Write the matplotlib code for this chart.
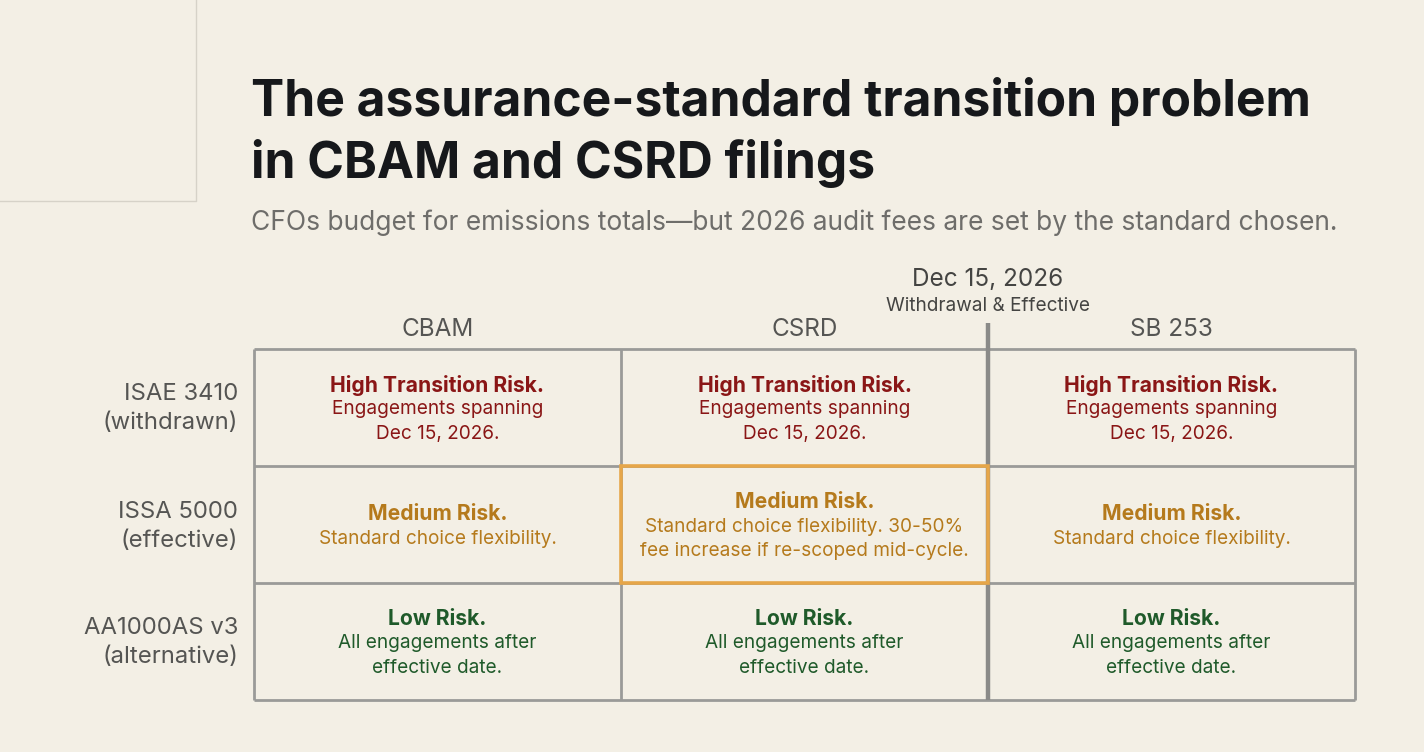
import matplotlib.pyplot as plt
from matplotlib.patches import Rectangle

plt.rcParams['font.family'] = ['Inter', 'DejaVu Sans']

title_lines = ["The assurance-standard transition problem", "in CBAM and CSRD filings"]
subtitle = "CFOs budget for emissions totals\u2014but 2026 audit fees are set by the standard chosen."

columns = ["CBAM", "CSRD", "SB 253"]
rows = [["ISAE 3410", "(withdrawn)"], ["ISSA 5000", "(effective)"], ["AA1000AS v3", "(alternative)"]]
marker_date = "Dec 15, 2026"
marker_note = "Withdrawal & Effective"

# risk level per row, and the body lines for each cell
risk_heads = ["High Transition Risk.", "Medium Risk.", "Low Risk."]
risk_colors = ["#8a1616", "#b57a1c", "#1f5a2a"]
cell_bodies = [
    [["Engagements spanning", "Dec 15, 2026."]] * 3,
    [["Standard choice flexibility."],
     ["Standard choice flexibility. 30-50%", "fee increase if re-scoped mid-cycle."],
     ["Standard choice flexibility."]],
    [["All engagements after", "effective date."]] * 3,
]
highlight = (1, 1)

bg = "#f3efe5"
grid_c = "#9a9a98"
label_c = "#555553"

fig = plt.figure(figsize=(14.24, 7.52), dpi=100, facecolor=bg)
ax = fig.add_axes([0, 0, 1, 1])
ax.set_xlim(0, 1424)
ax.set_ylim(752, 0)
ax.axis("off")

# decorative corner box
ax.plot([0, 196, 196], [201, 201, 0], color="#d6d2c8", lw=1)

ax.text(251, 101, title_lines[0], fontsize=35.8, fontweight="bold", color="#16181b", va="center", ha="left")
ax.text(251, 163, title_lines[1], fontsize=35.8, fontweight="bold", color="#16181b", va="center", ha="left")
ax.text(251, 223, subtitle, fontsize=19, color="#6e6d6a", va="center", ha="left")

x0, cw = 254, 367
y0, rh = 349, 117
ncol, nrow = len(columns), len(rows)

# grid
for i in range(nrow + 1):
    ax.plot([x0, x0 + ncol * cw], [y0 + i * rh] * 2, color=grid_c, lw=2, solid_capstyle="butt")
for j in range(ncol + 1):
    ax.plot([x0 + j * cw] * 2, [y0, y0 + nrow * rh], color=grid_c, lw=2, solid_capstyle="butt")

# date marker line
mx = x0 + 2 * cw
ax.plot([mx, mx], [323, y0 + nrow * rh], color="#8a8a88", lw=3.2, solid_capstyle="butt")
ax.text(mx, 279, marker_date, fontsize=17.5, color="#444442", ha="center", va="center")
ax.text(mx, 306, marker_note, fontsize=13.7, color="#444442", ha="center", va="center")

for j, c in enumerate(columns):
    ax.text(x0 + j * cw + cw / 2, 329, c, fontsize=17.5, color=label_c, ha="center", va="center")

for i, (a, b) in enumerate(rows):
    cy = y0 + i * rh + rh / 2
    ax.text(238, cy - 13, a, fontsize=17.2, color=label_c, ha="right", va="center")
    ax.text(238, cy + 16, b, fontsize=17.2, color=label_c, ha="right", va="center")

for i in range(nrow):
    for j in range(ncol):
        lines = [risk_heads[i]] + cell_bodies[i][j]
        cx = x0 + j * cw + cw / 2
        cy = y0 + i * rh + rh / 2 + 2
        n = len(lines)
        step = 24.5
        start = cy - (n - 1) * step / 2
        for k, t in enumerate(lines):
            ax.text(cx, start + k * step, t,
                    fontsize=15.2 if k == 0 else 13.7,
                    fontweight="bold" if k == 0 else "normal",
                    color=risk_colors[i], ha="center", va="center")

hi, hj = highlight
ax.add_patch(Rectangle((x0 + hj * cw, y0 + hi * rh), cw, rh, fill=False,
                       edgecolor="#e6a649", lw=2.6, zorder=5))

fig.savefig("out.png", dpi=100, facecolor=bg)
